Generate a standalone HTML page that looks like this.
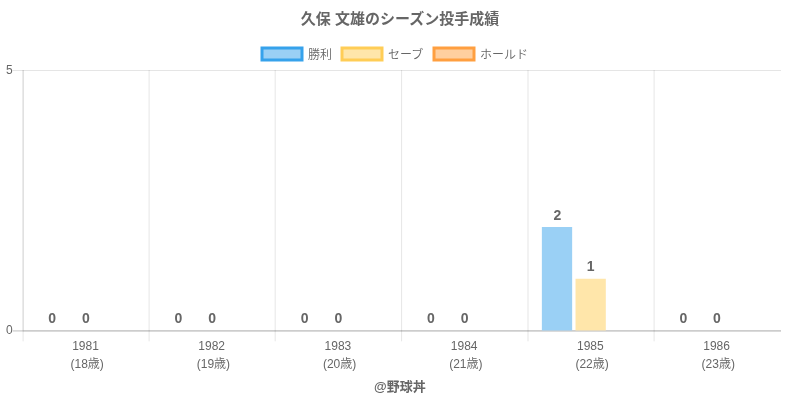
<!DOCTYPE html>
<html lang="ja"><head><meta charset="utf-8"><title>久保 文雄のシーズン投手成績</title>
<style>
html,body{margin:0;padding:0;background:#fff;}
body{width:800px;height:400px;overflow:hidden;}
svg{display:block;font-family:"Liberation Sans", "Noto Sans CJK JP", sans-serif;}
.grid{stroke:rgba(0,0,0,0.1);stroke-width:1;}
.zero{stroke:rgba(0,0,0,0.25);stroke-width:1;}
.tick{font-size:12px;font-weight:350;fill:#666;}
.val{font-size:14px;font-weight:bold;fill:#666;text-anchor:middle;}
.title{font-size:15px;font-weight:bold;fill:#666;text-anchor:middle;}
.legend{font-size:12px;font-weight:350;fill:#666;}
.foot{font-size:13px;font-weight:bold;fill:#666;text-anchor:middle;}
</style></head><body>
<svg width="800" height="400" viewBox="0 0 800 400">
<rect x="0" y="0" width="800" height="400" fill="#fff"/>
<text class="title" x="400" y="23.7">久保 文雄のシーズン投手成績</text>
<rect x="262" y="48" width="40" height="12" fill="#9AD0F5" stroke="#36A2EB" stroke-width="3"/>
<text class="legend" x="308" y="58.8">勝利</text>
<rect x="342" y="48" width="40" height="12" fill="#FFE6AA" stroke="#FFCD56" stroke-width="3"/>
<text class="legend" x="388" y="58.8">セーブ</text>
<rect x="434" y="48" width="40" height="12" fill="#FFCF9F" stroke="#FF9F40" stroke-width="3"/>
<text class="legend" x="480" y="58.8">ホールド</text>
<line class="grid" x1="23.1" y1="70" x2="23.1" y2="341.33"/>
<line class="grid" x1="149.1" y1="70" x2="149.1" y2="341.33"/>
<line class="grid" x1="275.2" y1="70" x2="275.2" y2="341.33"/>
<line class="grid" x1="401.6" y1="70" x2="401.6" y2="341.33"/>
<line class="grid" x1="528" y1="70" x2="528" y2="341.33"/>
<line class="grid" x1="654.1" y1="70" x2="654.1" y2="341.33"/>
<line class="grid" x1="23.1" y1="70" x2="23.1" y2="330.33"/>
<line class="grid" x1="12.67" y1="70.5" x2="781" y2="70.5"/>
<line class="zero" x1="12.67" y1="330.93" x2="781" y2="330.93"/>
<line class="grid" x1="22.67" y1="330.93" x2="781" y2="330.93"/>
<text class="tick" x="12.7" y="74.1" text-anchor="end">5</text>
<text class="tick" x="12.7" y="334.43" text-anchor="end">0</text>
<text class="val" x="52.22" y="322.5">0</text>
<text class="val" x="85.88" y="322.5">0</text>
<text class="tick" x="85.48" y="349.5" text-anchor="middle">1981</text>
<text class="tick" x="87.18" y="367.5" text-anchor="middle">(18歳)</text>
<text class="val" x="178.44" y="322.5">0</text>
<text class="val" x="212.1" y="322.5">0</text>
<text class="tick" x="211.7" y="349.5" text-anchor="middle">1982</text>
<text class="tick" x="213.4" y="367.5" text-anchor="middle">(19歳)</text>
<text class="val" x="304.67" y="322.5">0</text>
<text class="val" x="338.32" y="322.5">0</text>
<text class="tick" x="337.92" y="349.5" text-anchor="middle">1983</text>
<text class="tick" x="339.62" y="367.5" text-anchor="middle">(20歳)</text>
<text class="val" x="430.89" y="322.5">0</text>
<text class="val" x="464.55" y="322.5">0</text>
<text class="tick" x="464.15" y="349.5" text-anchor="middle">1984</text>
<text class="tick" x="465.85" y="367.5" text-anchor="middle">(21歳)</text>
<rect x="541.86" y="227" width="30.29" height="103.5" fill="#9AD0F5"/>
<text class="val" x="557.31" y="219.9">2</text>
<rect x="575.52" y="278.75" width="30.29" height="51.75" fill="#FFE6AA"/>
<text class="val" x="590.77" y="270.75">1</text>
<text class="tick" x="590.37" y="349.5" text-anchor="middle">1985</text>
<text class="tick" x="592.07" y="367.5" text-anchor="middle">(22歳)</text>
<text class="val" x="683.33" y="322.5">0</text>
<text class="val" x="716.99" y="322.5">0</text>
<text class="tick" x="716.59" y="349.5" text-anchor="middle">1986</text>
<text class="tick" x="718.29" y="367.5" text-anchor="middle">(23歳)</text>
<text class="foot" x="399.8" y="391.1">@野球丼</text>
</svg>
</body></html>
